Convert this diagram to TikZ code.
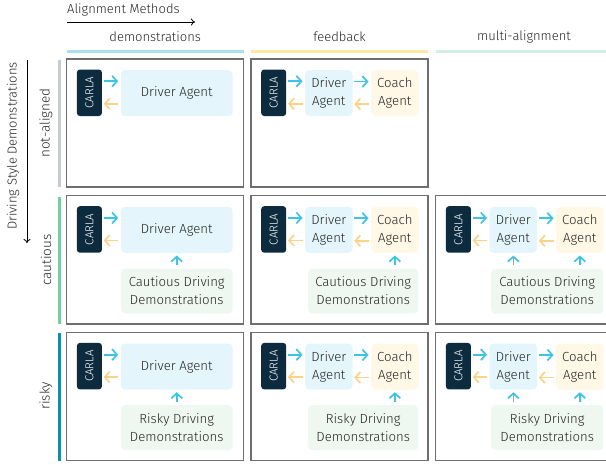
\documentclass[tikz,border=0pt]{standalone}
\usepackage{fontspec}
\setmainfont{Fira Sans Light}
\usetikzlibrary{arrows.meta,calc}
\definecolor{txt}{HTML}{262626}
\definecolor{carlac}{HTML}{0C2B3E}
\definecolor{drvc}{HTML}{E4F6FB}
\definecolor{coachc}{HTML}{FFF8E6}
\definecolor{democ}{HTML}{EFF8F0}
\definecolor{arrcy}{HTML}{3EC3E6}
\definecolor{arror}{HTML}{FCD28A}
\definecolor{framec}{HTML}{6E6E6E}
\definecolor{colA}{HTML}{A6E1EC}
\definecolor{colB}{HTML}{FBE9A3}
\definecolor{colC}{HTML}{D2EFE3}
\definecolor{rowA}{HTML}{C5CBD3}
\definecolor{rowB}{HTML}{7ECBA1}
\definecolor{rowC}{HTML}{1F87A8}
\tikzset{
  cellframe/.style={draw=framec,line width=1.1pt},
  carlabox/.style={fill=carlac,rounded corners=3pt,minimum width=25pt,minimum height=46.5pt,inner sep=0pt,anchor=north west,text=white,font=\fontsize{11.5}{12}\selectfont},
  agentbox/.style={rounded corners=4pt,minimum height=46pt,inner sep=0pt,anchor=north west,text=txt,align=center,font=\fontsize{13.2}{18}\selectfont},
  drvbox/.style={agentbox,fill=drvc},
  coachbox/.style={agentbox,fill=coachc,minimum width=47.3pt},
  demobox/.style={agentbox,fill=democ,minimum height=45pt},
  fwd/.style={draw=arrcy,line width=1.7pt,-{Straight Barb[length=5pt,width=11pt,line width=1.7pt]}},
  bwd/.style={draw=arror,line width=1.7pt,-{Straight Barb[length=5pt,width=11pt,line width=1.7pt]}},
  hdr/.style={text=txt,font=\fontsize{13}{15}\selectfont},
  rowlbl/.style={text=txt,rotate=90,font=\fontsize{13.5}{15}\selectfont},
  axis/.style={draw=black,line width=0.8pt,-{To[length=4pt,width=7pt]}},
}
\begin{document}
\begin{tikzpicture}[x=1pt,y=-1pt]
\useasboundingbox (0,0) rectangle (606,464);
\clip (0,0) rectangle (606,464);
% axes
\node[hdr,anchor=west,inner sep=0pt] (almeth) at (67,10) {Alignment Methods};
\coordinate (axA) at (67,22);
\coordinate (axB) at (195,22);
\draw[axis] (axA) -- (axB);
\node[hdr,rotate=90,anchor=east,inner sep=0pt] (dsd) at (13,62) {Driving Style Demonstrations};
\coordinate (ayA) at (27,60);
\coordinate (ayB) at (27,243);
\draw[axis] (ayA) -- (ayB);
% column headers and bars
\node[hdr] (h1) at (155.2,37) {demonstrations};
\node[hdr] (h2) at (339.5,37) {feedback};
\node[hdr] (h3) at (524,37) {multi-alignment};
\fill[colA] (66.7,50.3) rectangle (243.7,53.3);
\fill[colB] (251,50.3) rectangle (428,53.3);
\fill[colC] (435.7,50.3) rectangle (612.7,53.3);
% row labels and bars
\node[rowlbl] (r1) at (46,123) {not-aligned};
\node[rowlbl] (r2) at (46,260) {cautious};
\node[rowlbl] (r3) at (46,396) {risky};
\fill[rowA] (57.5,60) rectangle (60.5,187);
\fill[rowB] (57.5,196.5) rectangle (60.5,324);
\fill[rowC] (57.5,333) rectangle (60.5,460.5);
% cell frames
\draw[cellframe] (66.7,59) rectangle (243.7,187);
\draw[cellframe] (251,59) rectangle (428,187);
\foreach \L in {66.7,251,435.7}{
  \draw[cellframe] (\L,195.7) rectangle (\L+177,324);
  \draw[cellframe] (\L,332.3) rectangle (\L+177,460.7);
}
% ---- row 1 col 1
\node[carlabox] (c11) at (76.7,69.3) {\rotatebox{90}{CARLA}};
\node[drvbox,minimum width=111.6pt] (d11) at (120.7,69.9) {Driver Agent};
\draw[fwd] ([xshift=1.5pt,yshift=11.5pt]c11.east) -- ([xshift=-2.5pt,yshift=11.5pt]c11.east -| d11.west);
\draw[bwd] ([xshift=-2.5pt,yshift=-11pt]c11.east -| d11.west) -- ([xshift=1.5pt,yshift=-11pt]c11.east);
% ---- row 1 col 2
\node[carlabox] (c12) at (261,69.3) {\rotatebox{90}{CARLA}};
\node[drvbox,minimum width=47.3pt] (d12) at (305,69.9) {Driver\\Agent};
\node[coachbox] (k12) at (371,69.9) {Coach\\Agent};
\draw[fwd] ([xshift=1.5pt,yshift=11.5pt]c12.east) -- ([xshift=-2.5pt,yshift=11.5pt]c12.east -| d12.west);
\draw[bwd] ([xshift=-2.5pt,yshift=-11pt]c12.east -| d12.west) -- ([xshift=1.5pt,yshift=-11pt]c12.east);
\draw[fwd] ([xshift=1.5pt,yshift=11.5pt]d12.east) -- ([xshift=-2.5pt,yshift=11.5pt]d12.east -| k12.west);
\draw[bwd] ([xshift=-2.5pt,yshift=-11pt]d12.east -| k12.west) -- ([xshift=1.5pt,yshift=-11pt]d12.east);
% ---- row 2 col 1
\node[carlabox] (c21) at (76.7,206) {\rotatebox{90}{CARLA}};
\node[drvbox,minimum width=111.6pt] (d21) at (120.7,206.6) {Driver Agent};
\node[demobox,minimum width=111.6pt] (m21) at (120.7,268.3) {Cautious Driving\\Demonstrations};
\draw[fwd] ([xshift=1.5pt,yshift=11.5pt]c21.east) -- ([xshift=-2.5pt,yshift=11.5pt]c21.east -| d21.west);
\draw[bwd] ([xshift=-2.5pt,yshift=-11pt]c21.east -| d21.west) -- ([xshift=1.5pt,yshift=-11pt]c21.east);
\draw[fwd,shorten <=3pt,shorten >=2.5pt] (m21.north) -- (d21.south);
% ---- row 2 col 2
\node[carlabox] (c22) at (261,206) {\rotatebox{90}{CARLA}};
\node[drvbox,minimum width=47.3pt] (d22) at (305,206.6) {Driver\\Agent};
\node[coachbox] (k22) at (371,206.6) {Coach\\Agent};
\node[demobox,minimum width=110pt] (m22) at (308,268.3) {Cautious Driving\\Demonstrations};
\draw[fwd] ([xshift=1.5pt,yshift=11.5pt]c22.east) -- ([xshift=-2.5pt,yshift=11.5pt]c22.east -| d22.west);
\draw[bwd] ([xshift=-2.5pt,yshift=-11pt]c22.east -| d22.west) -- ([xshift=1.5pt,yshift=-11pt]c22.east);
\draw[fwd] ([xshift=1.5pt,yshift=11.5pt]d22.east) -- ([xshift=-2.5pt,yshift=11.5pt]d22.east -| k22.west);
\draw[bwd] ([xshift=-2.5pt,yshift=-11pt]d22.east -| k22.west) -- ([xshift=1.5pt,yshift=-11pt]d22.east);
\draw[fwd,shorten <=3pt,shorten >=2.5pt] (m22.north -| k22.south) -- (k22.south);
% ---- row 2 col 3
\node[carlabox] (c23) at (445.7,206) {\rotatebox{90}{CARLA}};
\node[drvbox,minimum width=47.3pt] (d23) at (489.5,206.6) {Driver\\Agent};
\node[coachbox] (k23) at (556,206.6) {Coach\\Agent};
\node[demobox,minimum width=112pt] (m23) at (491,268.3) {Cautious Driving\\Demonstrations};
\draw[fwd] ([xshift=1.5pt,yshift=11.5pt]c23.east) -- ([xshift=-2.5pt,yshift=11.5pt]c23.east -| d23.west);
\draw[bwd] ([xshift=-2.5pt,yshift=-11pt]c23.east -| d23.west) -- ([xshift=1.5pt,yshift=-11pt]c23.east);
\draw[fwd] ([xshift=1.5pt,yshift=11.5pt]d23.east) -- ([xshift=-2.5pt,yshift=11.5pt]d23.east -| k23.west);
\draw[bwd] ([xshift=-2.5pt,yshift=-11pt]d23.east -| k23.west) -- ([xshift=1.5pt,yshift=-11pt]d23.east);
\draw[fwd,shorten <=3pt,shorten >=2.5pt] (m23.north -| d23.south) -- (d23.south);
\draw[fwd,shorten <=3pt,shorten >=2.5pt] (m23.north -| k23.south) -- (k23.south);
% ---- row 3 col 1
\node[carlabox] (c31) at (76.7,342.7) {\rotatebox{90}{CARLA}};
\node[drvbox,minimum width=111.6pt] (d31) at (120.7,343.3) {Driver Agent};
\node[demobox,minimum width=111.6pt] (m31) at (120.7,405) {Risky Driving\\Demonstrations};
\draw[fwd] ([xshift=1.5pt,yshift=11.5pt]c31.east) -- ([xshift=-2.5pt,yshift=11.5pt]c31.east -| d31.west);
\draw[bwd] ([xshift=-2.5pt,yshift=-11pt]c31.east -| d31.west) -- ([xshift=1.5pt,yshift=-11pt]c31.east);
\draw[fwd,shorten <=3pt,shorten >=2.5pt] (m31.north) -- (d31.south);
% ---- row 3 col 2
\node[carlabox] (c32) at (261,342.7) {\rotatebox{90}{CARLA}};
\node[drvbox,minimum width=47.3pt] (d32) at (305,343.3) {Driver\\Agent};
\node[coachbox] (k32) at (371,343.3) {Coach\\Agent};
\node[demobox,minimum width=110pt] (m32) at (308,405) {Risky Driving\\Demonstrations};
\draw[fwd] ([xshift=1.5pt,yshift=11.5pt]c32.east) -- ([xshift=-2.5pt,yshift=11.5pt]c32.east -| d32.west);
\draw[bwd] ([xshift=-2.5pt,yshift=-11pt]c32.east -| d32.west) -- ([xshift=1.5pt,yshift=-11pt]c32.east);
\draw[fwd] ([xshift=1.5pt,yshift=11.5pt]d32.east) -- ([xshift=-2.5pt,yshift=11.5pt]d32.east -| k32.west);
\draw[bwd] ([xshift=-2.5pt,yshift=-11pt]d32.east -| k32.west) -- ([xshift=1.5pt,yshift=-11pt]d32.east);
\draw[fwd,shorten <=3pt,shorten >=2.5pt] (m32.north -| k32.south) -- (k32.south);
% ---- row 3 col 3
\node[carlabox] (c33) at (445.7,342.7) {\rotatebox{90}{CARLA}};
\node[drvbox,minimum width=47.3pt] (d33) at (489.5,343.3) {Driver\\Agent};
\node[coachbox] (k33) at (556,343.3) {Coach\\Agent};
\node[demobox,minimum width=112pt] (m33) at (491,405) {Risky Driving\\Demonstrations};
\draw[fwd] ([xshift=1.5pt,yshift=11.5pt]c33.east) -- ([xshift=-2.5pt,yshift=11.5pt]c33.east -| d33.west);
\draw[bwd] ([xshift=-2.5pt,yshift=-11pt]c33.east -| d33.west) -- ([xshift=1.5pt,yshift=-11pt]c33.east);
\draw[fwd] ([xshift=1.5pt,yshift=11.5pt]d33.east) -- ([xshift=-2.5pt,yshift=11.5pt]d33.east -| k33.west);
\draw[bwd] ([xshift=-2.5pt,yshift=-11pt]d33.east -| k33.west) -- ([xshift=1.5pt,yshift=-11pt]d33.east);
\draw[fwd,shorten <=3pt,shorten >=2.5pt] (m33.north -| d33.south) -- (d33.south);
\draw[fwd,shorten <=3pt,shorten >=2.5pt] (m33.north -| k33.south) -- (k33.south);
\end{tikzpicture}
\end{document}
